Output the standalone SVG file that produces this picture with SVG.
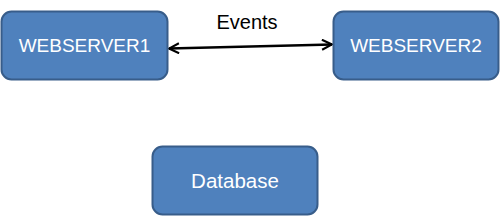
<svg xmlns="http://www.w3.org/2000/svg" width="501" height="217" viewBox="0 0 501 217">
<style>
.node rect{fill:#4F81BD;stroke:#385D8A;stroke-width:2}
.node text{fill:#fff;font-family:"Liberation Sans",Arial,sans-serif;font-size:19px;text-anchor:middle}
.lbl{fill:#000;font-family:"Liberation Sans",Arial,sans-serif;font-size:20px;text-anchor:middle}
</style>
<defs>
<marker id="ah" viewBox="0 0 12 12" refX="11" refY="6" markerWidth="12" markerHeight="12" markerUnits="userSpaceOnUse" orient="auto-start-reverse">
<path d="M1,1 L11,6 L1,11" fill="none" stroke="#000" stroke-width="2"/>
</marker>
</defs>
<rect width="501" height="217" fill="#fff"/>
<g id="connectors">
<line x1="169" y1="48.5" x2="332" y2="44.5" stroke="#000" stroke-width="2.5" marker-start="url(#ah)" marker-end="url(#ah)"/>
<text class="lbl" x="247" y="29">Events</text>
</g>
<g id="webserver1" class="node">
<rect x="1.5" y="11.5" width="166" height="68" rx="10"/>
<text x="84.5" y="52">WEBSERVER1</text>
</g>
<g id="webserver2" class="node">
<rect x="333.5" y="11.5" width="165" height="68" rx="10"/>
<text x="416" y="52">WEBSERVER2</text>
</g>
<g id="database" class="node">
<rect x="152.5" y="146.5" width="165" height="68" rx="10"/>
<text x="235" y="188" style="font-size:20.5px">Database</text>
</g>
</svg>
